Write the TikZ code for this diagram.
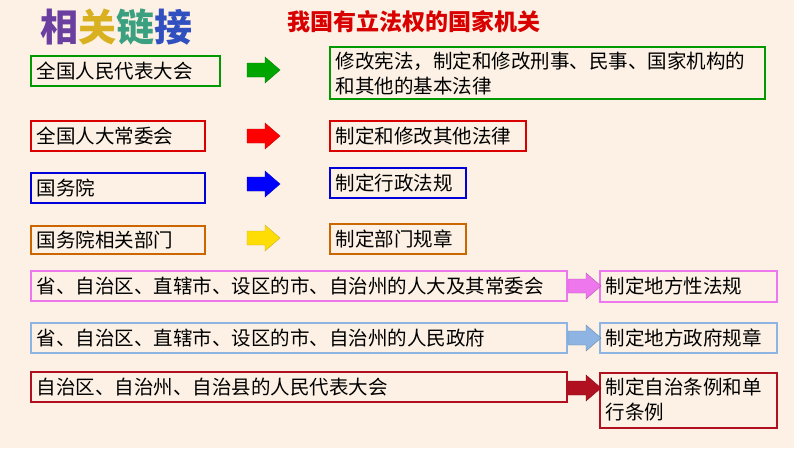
\documentclass[tikz,border=0pt]{standalone}
\usepackage{fontspec}
\setmainfont{Noto Sans CJK SC}
\definecolor{bg}{HTML}{FCF1E4}
\newcommand\blockarrow[3]{% name, center, colour
  \coordinate (#1) at #2;
  \fill[#3,draw=#3!75!black,line width=0.4pt] ($(#1)+(-16,-7)$) -- ($(#1)+(2,-7)$) -- ($(#1)+(2,-13)$) -- ($(#1)+(17,0)$) -- ($(#1)+(2,13)$) -- ($(#1)+(2,7)$) -- ($(#1)+(-16,7)$) -- cycle;}
\usetikzlibrary{calc}
\begin{document}
\begin{tikzpicture}[x=1pt,y=-1pt,
  bx/.style={draw=#1,line width=2pt,inner sep=0pt},
  tx/.style={anchor=west,font=\fontsize{19.5}{25}\selectfont,align=left}]
\fill[bg] (0,0) rectangle (794,448);
\useasboundingbox (0,0) rectangle (794,448);
\node[font=\fontsize{38}{38}\selectfont\bfseries,anchor=west,inner sep=0pt] (t1) at (40,27) {\textcolor[HTML]{6A3FA0}{相}\textcolor[HTML]{D8B020}{关}\textcolor[HTML]{3AA080}{链}\textcolor[HTML]{3050C0}{接}};
\node[font=\fontsize{23}{23}\selectfont\bfseries,text=red!85!black] (t2) at (414,22) {我国有立法权的国家机关};
\draw[bx={green!60!black}] (31,56) rectangle (220,86); \node[tx] (l1) at (33,71) {全国人民代表大会};
\draw[bx={green!60!black}] (330,47) rectangle (765,99); \node[tx] (r1) at (332,73) {修改宪法，制定和修改刑事、民事、国家机构的\\和其他的基本法律};
\blockarrow{a1}{(263,70)}{green!65!black}
\draw[bx={red!85!black}] (31,121) rectangle (205,151); \node[tx] (l2) at (33,136) {全国人大常委会};
\draw[bx={red!85!black}] (330,121) rectangle (526,151); \node[tx] (r2) at (332,136) {制定和修改其他法律};
\blockarrow{a2}{(263,136)}{red}
\draw[bx={blue!85!black}] (31,173) rectangle (205,203); \node[tx] (l3) at (33,188) {国务院};
\draw[bx={blue!85!black}] (330,168) rectangle (466,198); \node[tx] (r3) at (332,183) {制定行政法规};
\blockarrow{a3}{(263,184)}{blue}
\draw[bx={orange!80!black}] (31,226) rectangle (205,254); \node[tx] (l4) at (33,240) {国务院相关部门};
\draw[bx={orange!80!black}] (330,224) rectangle (466,254); \node[tx] (r4) at (332,239) {制定部门规章};
\blockarrow{a4}{(263,238)}{yellow!80!orange}
\definecolor{mg}{HTML}{EE77EE}
\draw[bx=mg] (31,271) rectangle (567,301); \node[tx] (l5) at (33,286) {省、自治区、直辖市、设区的市、自治州的人大及其常委会};
\draw[bx=mg] (600,271) rectangle (777,302); \node[tx] (r5) at (602,286) {制定地方性法规};
\blockarrow{a5}{(584,286)}{mg}
\definecolor{lb}{HTML}{8DB4E2}
\draw[bx=lb] (31,323) rectangle (567,353); \node[tx] (l6) at (33,338) {省、自治区、直辖市、设区的市、自治州的人民政府};
\draw[bx=lb] (600,323) rectangle (777,353); \node[tx] (r6) at (602,338) {制定地方政府规章};
\blockarrow{a6}{(584,338)}{lb}
\definecolor{dr}{HTML}{B01020}
\draw[bx=dr] (31,372) rectangle (567,402); \node[tx] (l7) at (33,387) {自治区、自治州、自治县的人民代表大会};
\draw[bx=dr] (600,373) rectangle (777,428); \node[tx] (r7) at (602,400) {制定自治条例和单\\行条例};
\blockarrow{a7}{(584,388)}{dr}
\end{tikzpicture}
\end{document}
